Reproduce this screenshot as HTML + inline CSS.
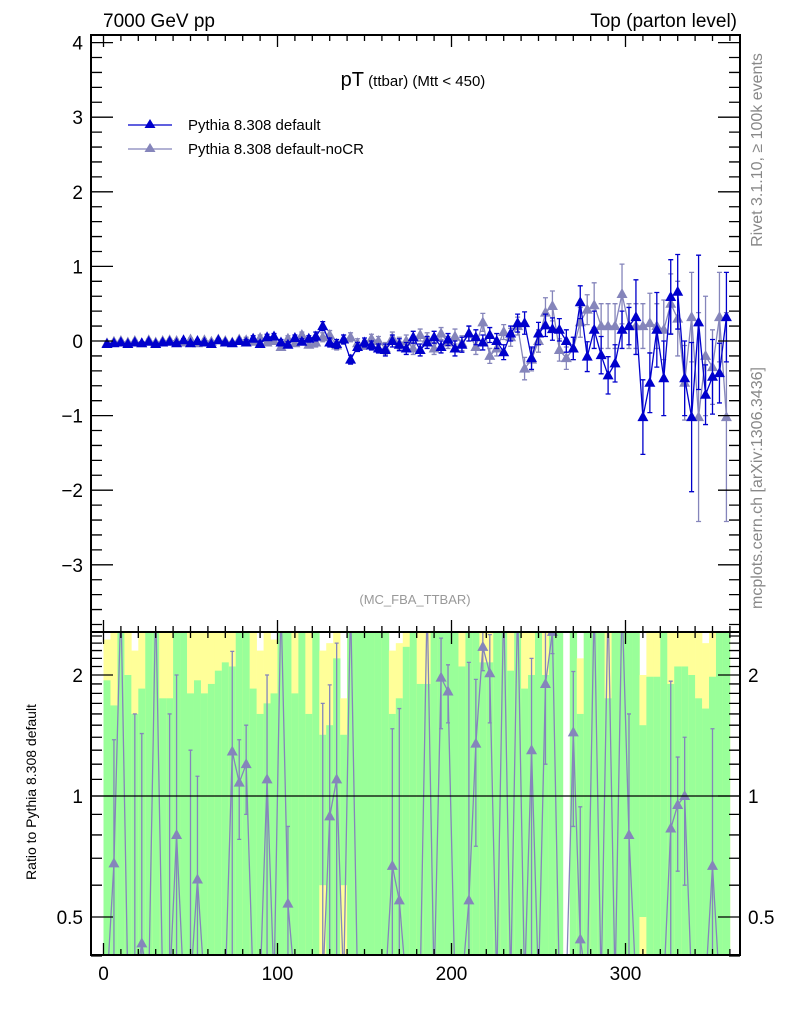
<!DOCTYPE html>
<html><head><meta charset="utf-8">
<style>
html,body{margin:0;padding:0;background:#fff;width:786px;height:1024px;overflow:hidden;}
svg{display:block;font-family:"Liberation Sans",sans-serif;}
</style></head>
<body>
<svg id="chart" width="786" height="1024" viewBox="0 0 786 1024" xmlns="http://www.w3.org/2000/svg">
<defs>
<clipPath id="clipMain"><rect x="91" y="35" width="649" height="597"/></clipPath>
<clipPath id="clipRatio"><rect x="91" y="632" width="649" height="323"/></clipPath>
</defs>
<g id="bands" clip-path="url(#clipRatio)"></g>
<g id="mainMarks" clip-path="url(#clipMain)"></g>
<g id="ratioMarks" clip-path="url(#clipRatio)"></g>
<g id="axes"></g>
<text x="103" y="27" font-size="19">7000 GeV pp</text>
<text x="737" y="27" font-size="19" text-anchor="end">Top (parton level)</text>
<text x="413" y="86" text-anchor="middle"><tspan font-size="20">pT</tspan><tspan font-size="15"> (ttbar) (Mtt &lt; 450)</tspan></text>
<g>
<g>
<line x1="128" y1="125" x2="172" y2="125" stroke="#0000cc" stroke-width="1.3"/>
<polygon points="150,119 155.5,128 144.5,128" fill="#0000cc"/>
<text x="188" y="130" font-size="15">Pythia 8.308 default</text></g>
<g>
<line x1="128" y1="149" x2="172" y2="149" stroke="#8585bb" stroke-width="1.3"/>
<polygon points="150,143 155.5,152 144.5,152" fill="#8585bb"/>
<text x="188" y="154" font-size="15">Pythia 8.308 default-noCR</text></g>
</g>
<text x="415" y="604" font-size="13" fill="#999" text-anchor="middle">(MC_FBA_TTBAR)</text>
<text transform="translate(762,150) rotate(-90)" font-size="16" fill="#888" text-anchor="middle">Rivet 3.1.10, ≥ 100k events</text>
<text transform="translate(762,488) rotate(-90)" font-size="16" fill="#888" text-anchor="middle">mcplots.cern.ch [arXiv:1306.3436]</text>
<text transform="translate(36,792) rotate(-90)" font-size="14" text-anchor="middle">Ratio to Pythia 8.308 default</text>
</svg>
<script>
const binWidth = 4;
const defaultVals = [-0.04,-0.03,-0.02,-0.04,-0.02,-0.03,-0.01,-0.04,-0.02,-0.01,
 -0.03,0.01,-0.03,0.0,-0.02,-0.04,0.01,-0.02,-0.03,0.0,
 -0.02,0.03,-0.04,0.05,0.06,-0.02,-0.05,0.04,-0.01,0.03,
 0.06,0.2,-0.02,-0.04,0.02,-0.25,-0.08,-0.02,-0.06,-0.1,
 -0.12,0.0,-0.05,-0.1,0.05,-0.12,-0.02,0.05,-0.08,0.02,
 -0.1,-0.05,0.1,0.05,-0.02,0.08,0.0,-0.15,0.1,0.24,
 0.24,-0.23,0.1,0.21,0.16,0.15,0.0,-0.1,0.52,-0.21,
 0.15,-0.19,-0.46,-0.3,0.15,0.2,0.32,-1.02,-0.56,0.15,
 -0.5,0.59,0.66,-0.5,-1.02,0.25,-0.72,-0.48,-0.43,0.32];
const defaultErrs = [0.02,0.02,0.02,0.02,0.02,0.02,0.02,0.02,0.02,0.02,
 0.02,0.02,0.02,0.02,0.02,0.02,0.02,0.02,0.02,0.02,
 0.04,0.04,0.04,0.04,0.04,0.04,0.04,0.04,0.04,0.04,
 0.06,0.06,0.06,0.06,0.06,0.06,0.06,0.06,0.06,0.06,
 0.08,0.08,0.08,0.08,0.08,0.08,0.08,0.08,0.08,0.08,
 0.1,0.1,0.1,0.1,0.1,0.1,0.1,0.1,0.1,0.12,
 0.15,0.15,0.15,0.15,0.15,0.15,0.15,0.15,0.22,0.2,
 0.25,0.25,0.25,0.25,0.25,0.25,0.5,0.5,0.4,0.5,
 0.5,0.5,0.5,0.5,1.0,0.9,0.4,0.5,0.4,0.6];
const noCRVals = [-0.03,-0.01,0.0,-0.02,0.0,-0.03,0.01,-0.02,0.0,0.01,
 0.0,-0.02,0.02,-0.03,0.01,-0.01,0.02,0.0,-0.02,0.02,
 0.01,-0.01,0.04,-0.02,0.0,-0.08,0.03,-0.03,0.08,-0.05,
 -0.02,0.05,0.08,-0.06,0.02,0.05,-0.03,-0.05,0.03,0.0,
 -0.1,0.04,-0.03,0.0,-0.1,0.08,0.03,-0.1,0.1,-0.02,
 0.06,-0.03,0.1,-0.08,0.25,-0.2,-0.1,0.12,0.05,0.2,
 -0.37,-0.25,0.0,0.38,0.47,-0.12,-0.23,-0.1,0.25,0.42,
 0.48,0.2,0.2,0.2,0.63,0.2,0.2,0.2,0.24,0.2,
 0.15,0.5,0.3,-0.56,0.32,-1.02,-0.2,-0.35,0.32,-1.02];
const noCRErrs = [0.02,0.02,0.02,0.02,0.02,0.02,0.02,0.02,0.02,0.02,
 0.02,0.02,0.02,0.02,0.02,0.02,0.02,0.02,0.02,0.02,
 0.04,0.04,0.04,0.04,0.04,0.04,0.04,0.04,0.04,0.04,
 0.06,0.06,0.06,0.06,0.06,0.06,0.06,0.06,0.06,0.06,
 0.08,0.08,0.08,0.08,0.08,0.08,0.08,0.08,0.08,0.08,
 0.1,0.1,0.1,0.1,0.12,0.1,0.1,0.1,0.12,0.12,
 0.15,0.15,0.15,0.2,0.2,0.15,0.15,0.15,0.2,0.2,
 0.3,0.3,0.3,0.3,0.4,0.3,0.3,0.3,0.4,0.3,
 0.4,0.4,0.5,0.5,0.6,1.4,0.8,0.5,0.6,1.4];
const ratioVals = [0.1,0.68,6,0.1,0.1,0.43,0.1,6,0.1,0.1,
 0.8,0.1,0.1,0.62,0.1,0.1,0.1,0.1,1.29,1.08,
 1.2,0.1,0.1,1.1,0.1,6,0.54,0.1,0.1,0.1,
 0.1,0.1,0.89,1.1,0.1,6,0.1,0.1,0.1,0.1,
 0.1,0.67,0.55,0.1,0.1,0.1,6,0.1,1.97,1.82,
 0.1,0.1,0.55,1.35,2.35,2.02,0.1,6,0.1,6,
 0.1,1.3,0.1,1.9,2.56,0.1,0.1,1.44,0.44,0.1,
 6,0.1,6,0.1,6,0.8,0.1,0.1,0.1,0.1,
 0.1,0.83,0.95,1.0,0.1,0.1,0.1,0.67,0.1,0.1];
const ratioErrs = [0.3,0.7,3,0.3,1.5,1.0,0.3,3,0.3,1.5,
 1.2,0.3,1.2,0.5,0.3,0.3,0.2,0.3,1.0,0.3,
 0.3,0.3,0.3,0.9,0.3,3,0.3,0.3,0.3,0.3,
 0.3,1.6,1.0,1.3,0.3,3,0.3,0.3,0.3,0.3,
 0.3,0.8,1.1,0.3,0.3,0.3,3,0.3,0.5,0.3,
 0.3,0.3,1.6,0.6,0.3,0.5,0.3,3,0.3,3,
 0.3,0.9,0.3,0.7,0.3,0.3,0.3,0.6,0.5,0.3,
 3,0.3,3,0.3,3,0.8,0.3,0.3,0.3,0.3,
 0.3,1.1,0.3,0.4,0.3,0.3,0.3,0.8,0.3,0.3];
const greenTop = [1.94,1.68,3,2.0,1.6,1.85,3,3,1.75,1.75,
 3,3,1.8,1.94,1.8,1.9,2.05,2.15,2.1,3,
 3,1.85,1.6,1.7,1.8,3,3,1.8,3,1.6,
 3,1.42,1.5,2.2,1.42,3,3,3,3,3,
 3,1.6,1.75,2.35,3,1.9,1.9,3,3,3,
 3,2.1,3,3,2.15,2.15,3,3,2.05,3,
 1.85,2.0,3,2.0,3,3,0,3,1.6,3,
 3,3,1.75,3,3,3,3,1.5,1.98,1.98,
 3,1.9,2.1,2.1,2.0,1.75,1.65,1.98,3,3];
const yellowTop = [2.45,3,3,3,2.3,3,3,3,3,3,
 3,3,3,3,3,3,3,3,3,3,
 3,3,2.3,3,2.45,3,3,3,3,3,
 3,2.3,2.4,3,1.75,3,3,3,3,3,
 3,2.3,2.4,3,3,3,3,3,3,3,
 3,3,3,3,3,3,3,3,3,3,
 3,3,3,3,3,3,0,3,2.2,3,
 3,3,3,3,3,3,3,2.0,3,3,
 3,3,3,3,3,3,2.4,3,3,3];
const greenBot = [0.3,0.3,0.3,0.3,0.3,0.3,0.3,0.3,0.3,0.3,
 0.3,0.3,0.3,0.3,0.3,0.3,0.3,0.3,0.3,0.3,
 0.3,0.3,0.3,0.3,0.3,0.3,0.3,0.3,0.3,0.3,
 0.3,0.6,0.3,0.3,0.6,0.3,0.3,0.3,0.3,0.3,
 0.3,0.3,0.3,0.3,0.3,0.3,0.3,0.3,0.3,0.3,
 0.3,0.3,0.3,0.3,0.3,0.3,0.3,0.3,0.3,0.3,
 0.3,0.3,0.3,0.3,0.3,0.3,0.3,0.3,0.3,0.3,
 0.3,0.3,0.3,0.3,0.3,0.3,0.3,0.5,0.3,0.3,
 0.3,0.3,0.3,0.3,0.3,0.3,0.3,0.3,0.3,0.3];
const xTickLabels = [0,100,200,300];
const yMainTickLabels = [-3,-2,-1,0,1,2,3,4];
const yRatioTickLabels = [0.5,1,2];

const NS = "http://www.w3.org/2000/svg";
const L = 91, R = 740, MT = 35, MB = 632, RT = 632, RB = 955;
const xS = v => 103.5 + 1.74 * v;
const yM = v => 341 - 74.6 * v;
const yRraw = r => 796 - 402 * Math.log10(Math.max(r, 0.01));
const yR = r => Math.max(RT - 30, Math.min(RB + 30, yRraw(r)));
const clampR = y => Math.max(RT - 2, Math.min(RB + 2, y));
function mk(tag, attrs, parent) {
  const e = document.createElementNS(NS, tag);
  for (const k in attrs) e.setAttribute(k, attrs[k]);
  parent.appendChild(e);
  return e;
}
const bands = document.getElementById('bands');
const mainG = document.getElementById('mainMarks');
const ratG = document.getElementById('ratioMarks');
const axes = document.getElementById('axes');

greenTop.forEach((g, i) => {
  const x0 = xS(i * binWidth), x1 = xS((i + 1) * binWidth);
  const yt = clampR(yR(yellowTop[i]));
  if (yellowTop[i] > 0) {
    const y = mk('rect', {x: x0, y: yt, width: x1 - x0 + 0.3, height: RB - yt, fill: '#ffff99'}, bands);
    
    
  }
  if (g > 0) {
    const gt = clampR(yR(g)), gb = clampR(yR(greenBot[i]));
    const r = mk('rect', {x: x0, y: gt, width: x1 - x0 + 0.3, height: gb - gt, fill: '#99ff99'}, bands);
    
    
  }
});

function drawSeries(vals, errs, color, name, g, yf, capW, isRatio) {
  const pts = vals.map((v, i) => [xS(i * binWidth + binWidth / 2), yf(v)]);
  const pl = mk('polyline', {points: pts.map(p => p.join(',')).join(' '), fill: 'none', stroke: color, 'stroke-width': 1.3}, g);
  
  
  vals.forEach((v, i) => {
    const x = pts[i][0], y = pts[i][1];
    const y1 = yf(v + errs[i]);
    const yb = isRatio ? yf(Math.max(v - errs[i], 0.011)) : yf(v - errs[i]);
    const eb = mk('path', {d: `M${x},${y1}V${yb}M${x - capW},${y1}H${x + capW}M${x - capW},${yb}H${x + capW}`, stroke: color, 'stroke-width': 1.3, fill: 'none'}, g);
    
    
    const t = mk('polygon', {points: `${x},${y - 6} ${x + 5.5},${y + 4} ${x - 5.5},${y + 4}`, fill: color}, g);
    
    
  });
}
drawSeries(noCRVals, noCRErrs, '#8585bb', 'nocr', mainG, yM, 2.5, false);
drawSeries(defaultVals, defaultErrs, '#0000cc', 'default', mainG, yM, 2.5, false);
drawSeries(ratioVals, ratioErrs, '#8585bb', 'ratio-nocr', ratG, yR, 2, true);

const ref = mk('line', {x1: L, x2: R, y1: yR(1), y2: yR(1), stroke: '#000', 'stroke-width': 1.3}, axes);



const f1 = mk('rect', {x: L, y: MT, width: R - L, height: MB - MT, fill: 'none', stroke: '#000', 'stroke-width': 2}, axes);


const f2 = mk('rect', {x: L, y: RT, width: R - L, height: RB - RT, fill: 'none', stroke: '#000', 'stroke-width': 2}, axes);



let d = '';
for (let v = 0; v <= 360; v += 10) {
  const x = xS(v), len = v % 100 === 0 ? 12 : 6;
  d += `M${x},${MT}v${len}M${x},${MB}v${-len}M${x},${RT}v${len}M${x},${RB}v${-len}`;
}
for (let k = -19; k <= 20; k++) {
  const v = k * 0.2, y = yM(v);
  if (y < MT || y > MB) continue;
  const len = k % 5 === 0 ? 22 : 11;
  d += `M${L},${y}h${len}M${R},${y}h${-len}`;
}
const rt = [0.4,0.5,0.6,0.7,0.8,0.9,1,1.1,1.2,1.3,1.4,1.5,1.6,1.7,1.8,1.9,2,2.1,2.2,2.3,2.4,2.5];
rt.forEach(r => {
  const y = yR(r), len = yRatioTickLabels.includes(r) ? 22 : 11;
  d += `M${L},${y}h${len}M${R},${y}h${-len}`;
});
const tk = mk('path', {d: d, stroke: '#000', 'stroke-width': 1.3, fill: 'none'}, axes);



xTickLabels.forEach(v => {
  const t = mk('text', {x: xS(v), y: 980, 'font-size': 19, 'text-anchor': 'middle'}, axes);
  t.textContent = v;
  
  
});
yMainTickLabels.forEach(v => {
  const t = mk('text', {x: 83, y: yM(v) + 7, 'font-size': 19, 'text-anchor': 'end'}, axes);
  t.textContent = v < 0 ? '\u2212' + Math.abs(v) : v;
  
  
});
yRatioTickLabels.forEach(v => {
  const a = mk('text', {x: 83, y: yR(v) + 7, 'font-size': 19, 'text-anchor': 'end'}, axes);
  a.textContent = v;
  
  
  const b = mk('text', {x: 748, y: yR(v) + 7, 'font-size': 19, 'text-anchor': 'start'}, axes);
  b.textContent = v;
  
  
});
</script>
</body></html>
